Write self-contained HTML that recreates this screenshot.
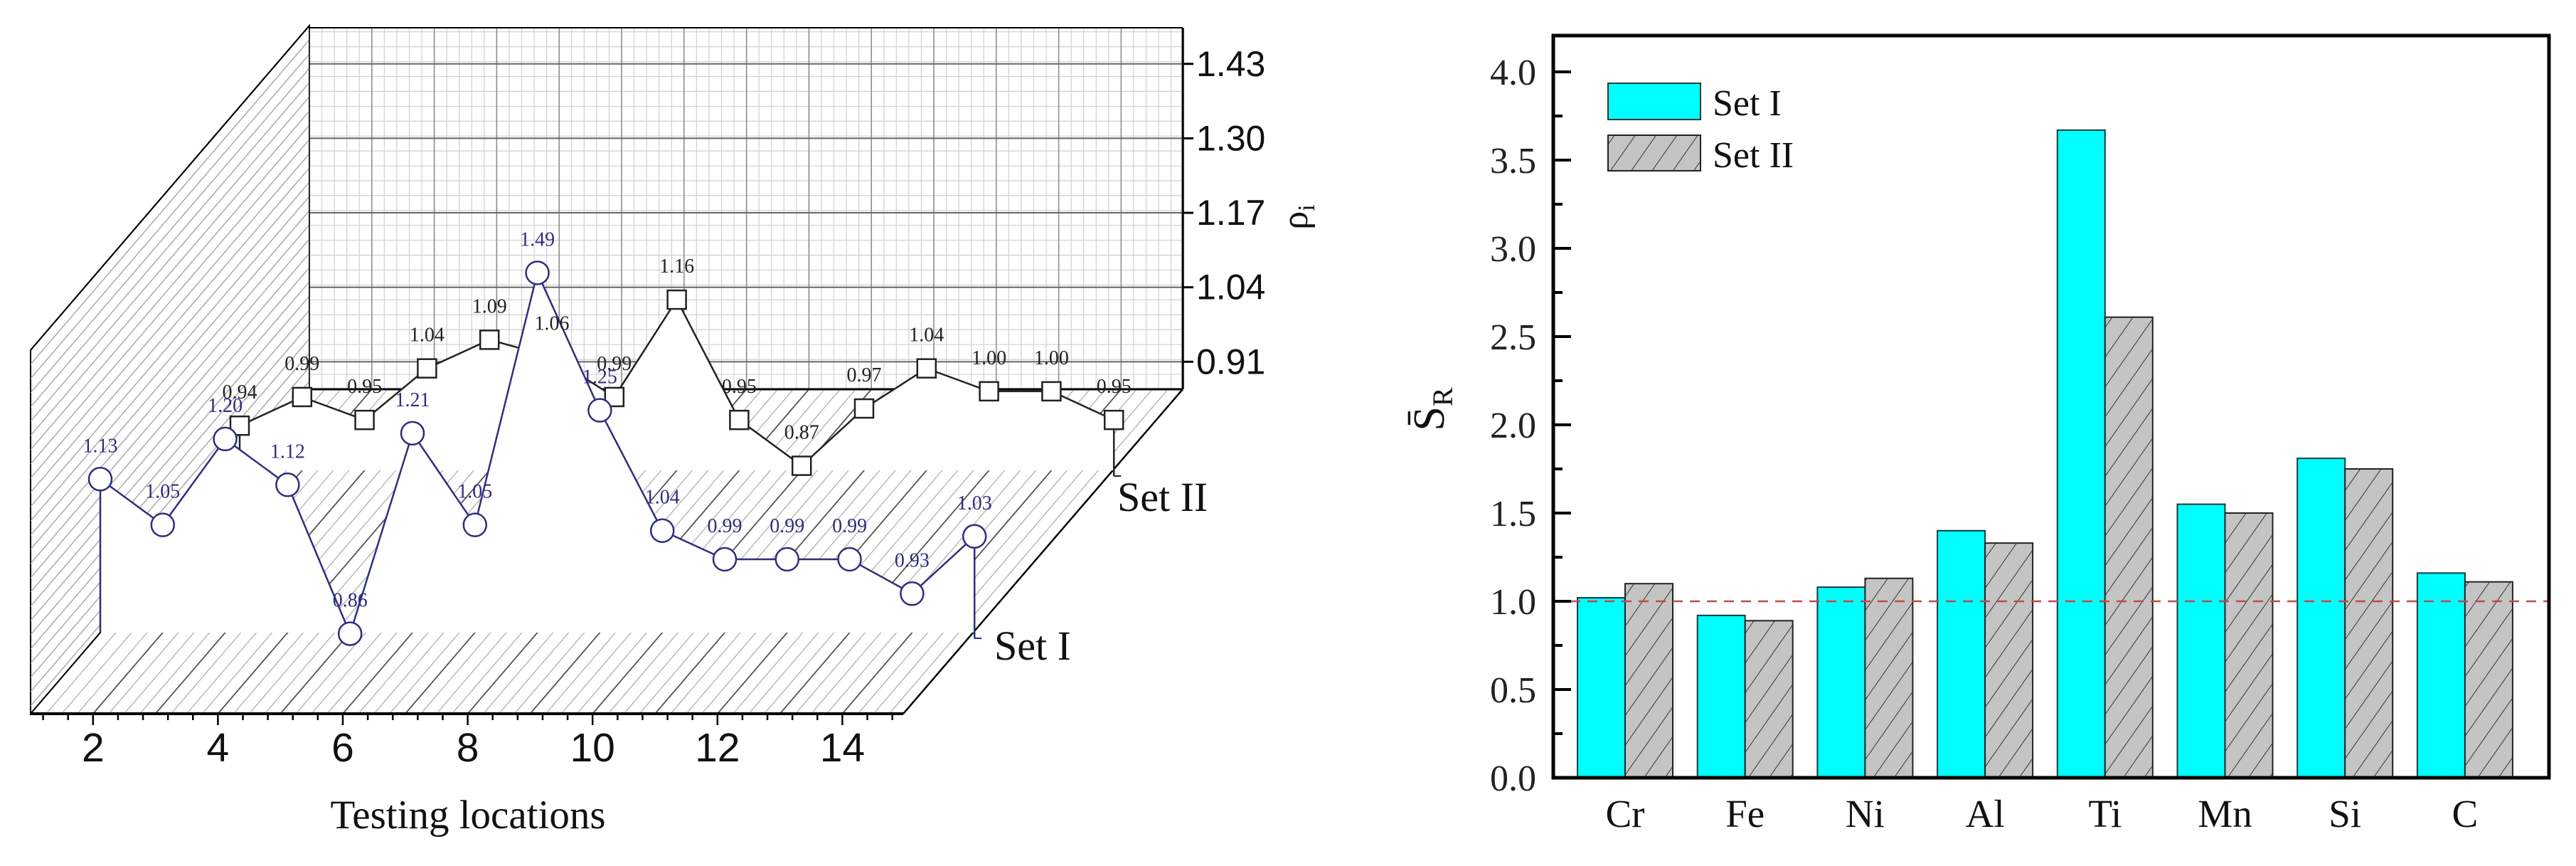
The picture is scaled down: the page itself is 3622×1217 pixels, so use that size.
<!DOCTYPE html>
<html><head><meta charset="utf-8">
<style>
html,body{margin:0;padding:0;background:#fff;width:3622px;height:1217px;overflow:hidden;}
svg{display:block;}
.serif{font-family:"Liberation Serif",serif;}
.sans{font-family:"Liberation Sans",sans-serif;}
</style></head>
<body>
<svg id="chart" width="3622" height="1217" viewBox="0 0 3622 1217" xmlns="http://www.w3.org/2000/svg" overflow="hidden">
<defs>
<pattern id="hatch" patternUnits="userSpaceOnUse" width="24" height="24" patternTransform="rotate(35)">
<rect width="24" height="24" fill="#c4c4c4"/>
<line x1="0" y1="0" x2="0" y2="24" stroke="#333" stroke-width="2"/>
</pattern>
<clipPath id="floorClip"><polygon points="43,1003 1270,1003 1663,547 435,547"/></clipPath>
<clipPath id="wallClip"><polygon points="43,1003 43,492 435,36 435,547"/></clipPath>
</defs>
<g id="left"></g>
<g id="right"></g>
</svg>
<script>
// ---- Left chart data ----
const locations = [1,2,3,4,5,6,7,8,9,10,11,12,13,14,15];
const set1Values = [1.13,1.05,1.20,1.12,0.86,1.21,1.05,1.49,1.25,1.04,0.99,0.99,0.99,0.93,1.03];
const set2Values = [0.94,0.99,0.95,1.04,1.09,1.06,0.99,1.16,0.95,0.87,0.97,1.04,1.00,1.00,0.95];
const rhoTicks = [0.91,1.04,1.17,1.30,1.43];
const locTickLabels = [2,4,6,8,10,12,14];
// ---- Right chart data ----
const elements = ["Cr","Fe","Ni","Al","Ti","Mn","Si","C"];
const srSet1 = [1.02,0.92,1.08,1.40,3.67,1.55,1.81,1.16];
const srSet2 = [1.10,0.89,1.13,1.33,2.61,1.50,1.75,1.11];
const srTicks = [0.0,0.5,1.0,1.5,2.0,2.5,3.0,3.5,4.0];

const NS = "http://www.w3.org/2000/svg";
function mk(tag, attrs, parent, text){
  const e = document.createElementNS(NS, tag);
  for (const k in attrs) e.setAttribute(k, attrs[k]);
  if (text !== undefined) e.textContent = text;
  parent.appendChild(e);
  return e;
}

// ================= LEFT 3D CHART =================
const L = document.getElementById('left');
const X0 = 43, DL = 87.8, DX = 392, DY = 456, YF = 1003, V0 = 0.862, K = 805;
function px(loc, depth){ return X0 + (loc-1)*DL + depth*DX; }
function py(v, depth){ return YF - depth*DY - (v - V0)*K; }

let e = mk('polygon',{points:"43,1003 43,492 435,36 435,547",fill:"#fff",stroke:"#000","stroke-width":2},L);
 
const wallG = mk('g',{"clip-path":"url(#wallClip)"},L);
for (let y = 492; y <= 1003; y += 20){
  mk('line',{x1:43,y1:y,x2:43+DX,y2:y-DY,stroke:"#aaa","stroke-width":1.5},wallG);
}
e = mk('rect',{x:435,y:39,width:1228,height:508,fill:"#fff"},L);
 
const gridG = mk('g',{},L);
for (let v = V0; v < 1.5; v += 0.026){
  const y = py(v,1); if (y < 39) break;
  mk('line',{x1:435,y1:y,x2:1663,y2:y,stroke:"#d0d0d0","stroke-width":1.2},gridG);
}
for (let loc = 1; loc <= 15.01; loc += 0.2){
  const x = px(loc,1);
  mk('line',{x1:x,y1:39,x2:x,y2:547,stroke:"#d0d0d0","stroke-width":1.2},gridG);
}
for (let loc = 1; loc <= 15; loc++){
  const x = px(loc,1);
  mk('line',{x1:x,y1:39,x2:x,y2:547,stroke:"#888","stroke-width":1.5},gridG);
}
rhoTicks.forEach(v=>{
  const y = py(v,1);
  mk('line',{x1:435,y1:y,x2:1663,y2:y,stroke:"#666","stroke-width":2},gridG);
});
e = mk('polygon',{points:"43,1003 1270,1003 1663,547 435,547",fill:"#fff"},L);
 
const floorG = mk('g',{"clip-path":"url(#floorClip)"},L);
for (let i = 0; i < 57; i++){
  const x = X0 + i*DL/4;
  mk('line',{x1:x,y1:YF,x2:x+DX,y2:YF-DY,stroke:(i%4===0?"#555":"#b5b5b5"),"stroke-width":(i%4===0?1.8:1.4)},floorG);
}
mk('line',{x1:435,y1:39,x2:1663,y2:39,stroke:"#000","stroke-width":2},L);
mk('line',{x1:435,y1:39,x2:435,y2:547,stroke:"#000","stroke-width":1.5},L);
mk('line',{x1:43,y1:492,x2:435,y2:36,stroke:"#000","stroke-width":2},L);
mk('line',{x1:1663,y1:39,x2:1663,y2:547,stroke:"#000","stroke-width":3},L);
mk('line',{x1:435,y1:547,x2:1663,y2:547,stroke:"#000","stroke-width":3},L);
mk('line',{x1:1270,y1:1003,x2:1663,y2:547,stroke:"#000","stroke-width":2.5},L);
mk('line',{x1:43,y1:1003,x2:435,y2:547,stroke:"#000","stroke-width":2},L);

rhoTicks.forEach(v=>{
  const y = py(v,1);
  mk('line',{x1:1663,y1:y,x2:1678,y2:y,stroke:"#000","stroke-width":3},L);
  const t = mk('text',{x:1682,y:y+17,"font-size":50,class:"sans",fill:"#111"},L,v.toFixed(2));
   
});
e = mk('text',{transform:"translate(1838,305) rotate(-90)","font-size":52,class:"serif","text-anchor":"middle",fill:"#111"},L);
 
mk('tspan',{},e,"ρ");
mk('tspan',{"font-size":34,dy:10},e,"i");

const labelLayer = [];
function drawSeries(vals, depth, color, marker, name){
  const g = mk('g',{},L);
   
  const base = py(V0, depth);
  let pts = locations.map((loc,i)=>[px(loc,depth), py(vals[i],depth)]);
  let poly = pts.map(p=>p.join(',')).join(' ');
  poly += ` ${pts[pts.length-1][0]},${base} ${pts[0][0]},${base}`;
  mk('polygon',{points:poly,fill:"#fff"},g);
  mk('line',{x1:pts[0][0],y1:pts[0][1],x2:pts[0][0],y2:base,stroke:color,"stroke-width":2.5},g);
  const last = pts[pts.length-1];
  mk('line',{x1:last[0],y1:last[1],x2:last[0],y2:base+8,stroke:color,"stroke-width":2.5},g);
  mk('line',{x1:last[0],y1:base+8,x2:last[0]+10,y2:base+8,stroke:color,"stroke-width":2},g);
  mk('polyline',{points:pts.map(p=>p.join(',')).join(' '),fill:"none",stroke:color,"stroke-width":2.5},g);
  pts.forEach((p,i)=>{
    let m;
    if (marker==='circle') m = mk('circle',{cx:p[0],cy:p[1],r:16,fill:"#fff",stroke:color,"stroke-width":2.5},g);
    else m = mk('rect',{x:p[0]-13,y:p[1]-13,width:26,height:26,fill:"#fff",stroke:color,"stroke-width":2.5},g);
     
    labelLayer.push([p[0], p[1]-38, color, vals[i].toFixed(2), name]);
  });
}
drawSeries(set2Values, 0.75, "#222", 'square', 'set-ii-series');
drawSeries(set1Values, 0.25, "#2e2e80", 'circle', 'set-i-series');
labelLayer.forEach(l=>{
  const t = mk('text',{x:l[0],y:l[1],"font-size":28,class:"serif","text-anchor":"middle",fill:l[2]},L,l[3]);
   
});

e = mk('text',{x:1571,y:718,"font-size":58,class:"serif",fill:"#111"},L,"Set II");
 
e = mk('text',{x:1398,y:927,"font-size":58,class:"serif",fill:"#111"},L,"Set I");
 

mk('line',{x1:43,y1:1003,x2:1270,y2:1003,stroke:"#000","stroke-width":4},L);
for (let loc = 1.2; loc <= 15.01; loc += 0.4){
  const x = px(loc,0);
  const major = Math.abs(loc - Math.round(loc)) < 0.01 && Math.round(loc)%2===0;
  mk('line',{x1:x,y1:1003,x2:x,y2:1003+(major?16:9),stroke:"#000","stroke-width":2.5},L);
}
locTickLabels.forEach(v=>{
  const t = mk('text',{x:px(v,0),y:1070,"font-size":57,class:"sans","text-anchor":"middle",fill:"#111"},L,String(v));
   
});
e = mk('text',{x:658,y:1164,"font-size":57,class:"serif","text-anchor":"middle",fill:"#111"},L,"Testing locations");
 

// ================= RIGHT BAR CHART =================
const R = document.getElementById('right');
const AX_L = 2184, AX_R = 3584, AX_T = 50, AX_B = 1093;
const C0 = 2285, CS = 168.7, BW = 67;
function yv(v){ return AX_B - v*248; }
function xc(i){ return C0 + i*CS; }

elements.forEach((el,i)=>{
  let b = mk('rect',{x:xc(i)-BW,y:yv(srSet1[i]),width:BW,height:AX_B-yv(srSet1[i]),fill:"#00ffff",stroke:"#1a3a3a","stroke-width":2},R);
   
  b = mk('rect',{x:xc(i),y:yv(srSet2[i]),width:BW,height:AX_B-yv(srSet2[i]),fill:"url(#hatch)",stroke:"#222","stroke-width":2},R);
   
  const t = mk('text',{x:xc(i),y:1162,"font-size":55,class:"serif","text-anchor":"middle",fill:"#111"},R,el);
   
});
e = mk('line',{x1:AX_L,y1:yv(1.0),x2:AX_R,y2:yv(1.0),stroke:"#c04a4a","stroke-width":2.5,"stroke-dasharray":"14,10"},R);
 
e = mk('rect',{x:AX_L,y:AX_T,width:AX_R-AX_L,height:AX_B-AX_T,fill:"none",stroke:"#000","stroke-width":5},R);
 
for (let v = 0; v <= 4.01; v += 0.25){
  const major = Math.abs(v*2 - Math.round(v*2)) < 0.01;
  mk('line',{x1:AX_L,y1:yv(v),x2:AX_L+(major?25:13),y2:yv(v),stroke:"#000","stroke-width":4},R);
}
srTicks.forEach(v=>{
  const t = mk('text',{x:2160,y:yv(v)+18,"font-size":52,class:"serif","text-anchor":"end",fill:"#222"},R,v.toFixed(1));
   
});
e = mk('text',{transform:"translate(2030,575) rotate(-90)","font-size":62,class:"serif","text-anchor":"middle",fill:"#111"},R);
 
mk('tspan',{},e,"S\u0304");
mk('tspan',{"font-size":40,dy:12},e,"R");
e = mk('rect',{x:2261,y:117,width:130,height:51,fill:"#00ffff",stroke:"#1a3a3a","stroke-width":2},R);
 
e = mk('rect',{x:2261,y:190,width:130,height:50,fill:"url(#hatch)",stroke:"#222","stroke-width":2},R);
 
e = mk('text',{x:2408,y:162,"font-size":52,class:"serif",fill:"#111"},R,"Set I");
 
e = mk('text',{x:2408,y:235,"font-size":52,class:"serif",fill:"#111"},R,"Set II");
 
</script>
</body></html>
